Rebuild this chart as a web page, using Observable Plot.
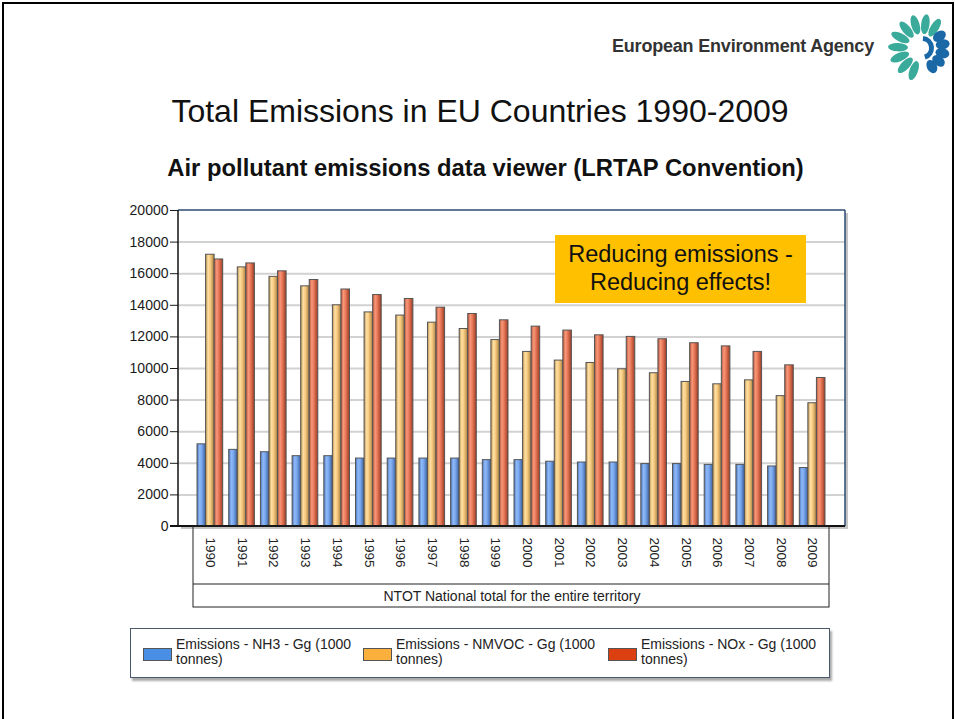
<!DOCTYPE html>
<html>
<head>
<meta charset="utf-8">
<script src="https://cdn.jsdelivr.net/npm/d3@7"></script>
<script src="https://cdn.jsdelivr.net/npm/@observablehq/plot@0.6"></script>
<style>
  html, body { margin: 0; padding: 0; background: #fff; }
  body { width: 955px; height: 719px; position: relative; overflow: hidden; font-family: "Liberation Sans", Arial, sans-serif; }
  #frame { position: absolute; left: 2px; top: 2px; width: 948px; height: 760px; border-top: 2px solid #000; border-left: 2px solid #000; border-right: 2px solid #000; }
  #agency { position: absolute; left: 612px; top: 36px; font-size: 18px; font-weight: bold; color: #333; font-family: "Liberation Sans", Arial, sans-serif; letter-spacing: -0.2px; }
  #logo { position: absolute; left: 878px; top: 8px; }
  #title { position: absolute; left: 0; width: 960px; top: 93px; text-align: center; font-size: 32px; color: #111; }
  #subtitle { position: absolute; left: 0; width: 971px; top: 154px; text-align: center; font-size: 23.8px; font-weight: bold; color: #111; }
  #chart { position: absolute; left: 0; top: 200px; }
  #note { position: absolute; left: 555px; top: 235px; width: 251px; height: 68px; background: #ffc000; font-size: 23.5px; text-align: center; line-height: 28px; color: #111; padding-top: 5px; box-sizing: border-box; }
  #legend { position: absolute; left: 130px; top: 628px; width: 700px; height: 50px; border: 1px solid #4a5a6a; box-shadow: 2px 3px 2px #aaa; background: #fff; box-sizing: border-box; }
  .item { position: absolute; top: 8px; font-family: "Liberation Sans Narrow", "Liberation Sans", Arial, sans-serif; font-size: 14px; line-height: 15px; color: #222; }
  .sw { position: absolute; left: 0; top: 11px; width: 27px; height: 11px; border: 1px solid #555; }
  .lt { position: absolute; left: 33px; top: 0; white-space: nowrap; }
</style>
</head>
<body>
<div id="frame"></div>
<div id="agency">European Environment Agency</div>
<svg id="logo" width="72" height="78" viewBox="0 0 72 78"></svg>
<div id="title">Total Emissions in EU Countries 1990-2009</div>
<div id="subtitle">Air pollutant emissions data viewer (LRTAP Convention)</div>
<div id="chart"></div>
<div id="note">Reducing emissions -<br>Reducing effects!</div>
<div id="legend"></div>
<script>
// ---- data ----
const years = ["1990","1991","1992","1993","1994","1995","1996","1997","1998","1999",
               "2000","2001","2002","2003","2004","2005","2006","2007","2008","2009"];
const nh3   = [5200, 4850, 4700, 4450, 4450, 4300, 4300, 4300, 4300, 4200,
               4200, 4100, 4050, 4050, 3950, 3950, 3900, 3900, 3800, 3700];
const nmvoc = [17200, 16400, 15800, 15200, 14000, 13550, 13350, 12900, 12500, 11800,
               11050, 10500, 10350, 9950, 9700, 9150, 9000, 9250, 8250, 7800];
const nox   = [16900, 16650, 16150, 15600, 15000, 14650, 14400, 13850, 13450, 13050,
               12650, 12400, 12100, 12000, 11850, 11600, 11400, 11050, 10200, 9400];
const seriesLabels = ["Emissions - NH3 - Gg (1000\ntonnes)",
                      "Emissions - NMVOC - Gg (1000\ntonnes)",
                      "Emissions - NOx - Gg (1000\ntonnes)"];
const yTicks = [0, 2000, 4000, 6000, 8000, 10000, 12000, 14000, 16000, 18000, 20000];
const groupLabel = "NTOT National total for the entire territory";

const table = years.map((y, i) => ({year: y, nh3: nh3[i], nmvoc: nmvoc[i], nox: nox[i]}));

// ---- layout ----
const W = 955, H = 410;
const mL = 178, mR = 110, mT = 10, mB = 84;
const xInsetL = 13, xInsetR = 14, pad = 0.19;
const step = (W - mL - mR - xInsetL - xInsetR) / (years.length - pad + 2 * pad);
const bw = step * (1 - pad);
const third = bw / 3;
const narrow = "'Liberation Sans Narrow', 'Liberation Sans', Arial, sans-serif";

const plot = Plot.plot({
  width: W, height: H,
  marginLeft: mL, marginRight: mR, marginTop: mT, marginBottom: mB,
  style: {fontFamily: "'Liberation Sans', Arial, sans-serif", fontSize: "14px", color: "#1a1a1a", background: "transparent"},
  x: {type: "band", domain: years, padding: pad, round: false, insetLeft: xInsetL, insetRight: xInsetR, axis: null},
  y: {domain: [0, 20000], ticks: yTicks, tickSize: 8, tickPadding: 2, label: null, tickFormat: d => String(d)},
  marks: [
    Plot.ruleY(yTicks.filter(d => d > 0 && d < 20000), {stroke: "#d2d2d2", strokeWidth: 2}),
    Plot.barY(table, {x: "year", y: "nh3", fill: "url(#gNH3)", stroke: "#555", strokeWidth: 1, insetRight: 2 * third}),
    Plot.barY(table, {x: "year", y: "nmvoc", fill: "url(#gNMVOC)", stroke: "#555", strokeWidth: 1, insetLeft: third, insetRight: third}),
    Plot.barY(table, {x: "year", y: "nox", fill: "url(#gNOX)", stroke: "#555", strokeWidth: 1, insetLeft: 2 * third}),
    Plot.text(table, {x: "year", text: "year", frameAnchor: "bottom", dy: 11, rotate: 90, textAnchor: "start", lineAnchor: "middle",
                      fontSize: 13.5, fontFamily: narrow, fill: "#222"}),
    Plot.text([groupLabel], {frameAnchor: "bottom", dy: 70, lineAnchor: "middle", fontSize: 14,
                      fontFamily: narrow, fill: "#222"})
  ]
});

const svg = d3.select(plot);
const defs = svg.insert("defs", ":first-child");
function grad(id, stops) {
  const g = defs.append("linearGradient").attr("id", id).attr("x1", "0").attr("x2", "1").attr("y1", "0").attr("y2", "0");
  stops.forEach(([o, c]) => g.append("stop").attr("offset", o).attr("stop-color", c));
}
grad("gNH3",   [[0, "#4a73b8"], [0.3, "#8fbaf8"], [0.55, "#7aa8ee"], [1, "#3c60a0"]]);
grad("gNMVOC", [[0, "#b89050"], [0.3, "#ffe0a2"], [0.55, "#f8ca80"], [1, "#a88040"]]);
grad("gNOX",   [[0, "#b8583a"], [0.3, "#f8987a"], [0.55, "#e87858"], [1, "#9c3c24"]]);

// background + shadow of plot area, inserted behind marks
const x0 = mL, x1 = W - mR, y0 = mT, y1 = H - mB;
const bg = svg.insert("g", "defs + *");
bg.append("rect").attr("x", x0 + 3).attr("y", y0 + 3).attr("width", x1 - x0).attr("height", y1 - y0).attr("fill", "#c4c4c4");
bg.append("rect").attr("x", x0).attr("y", y0).attr("width", x1 - x0).attr("height", y1 - y0).attr("fill", "#fff");

// borders and category box
const deco = svg.append("g");
deco.append("line").attr("x1", x0).attr("x2", x1).attr("y1", y0).attr("y2", y0).attr("stroke", "#2b4b73").attr("stroke-width", 1.5);
deco.append("line").attr("x1", x1).attr("x2", x1).attr("y1", y0).attr("y2", y1).attr("stroke", "#2b4b73").attr("stroke-width", 1.5);
deco.append("line").attr("x1", x0).attr("x2", x0).attr("y1", y0).attr("y2", y1).attr("stroke", "#111").attr("stroke-width", 1.5);
deco.append("line").attr("x1", x0 - 8).attr("x2", x1).attr("y1", y1).attr("y2", y1).attr("stroke", "#111").attr("stroke-width", 2);
const bx0 = x0 + xInsetL + 2, bx1 = x1 - xInsetR - 2;
deco.append("rect").attr("x", bx0).attr("y", y1).attr("width", bx1 - bx0).attr("height", 81).attr("fill", "none").attr("stroke", "#222").attr("stroke-width", 1);
deco.append("line").attr("x1", bx0).attr("x2", bx1).attr("y1", y1 + 58).attr("y2", y1 + 58).attr("stroke", "#222").attr("stroke-width", 1);

document.getElementById("chart").appendChild(plot);

// ---- legend ----
const legendColors = ["#4a8fe6", "#fbb03e", "#dd4010"];
const legendX = [12, 232, 477];
const legend = d3.select("#legend");
seriesLabels.forEach((lab, i) => {
  const it = legend.append("div").attr("class", "item").style("left", legendX[i] + "px");
  it.append("div").attr("class", "sw").style("background", legendColors[i]);
  const t = it.append("div").attr("class", "lt");
  lab.split("\n").forEach((line, j) => { if (j) t.append("br"); t.append("span").text(line); });
});

// ---- logo ----
const logo = d3.select("#logo");
const cx = 44, cy = 40;
for (let k = 0; k < 14; k++) {
  const a = -250 + k * 24;           // degrees
  const rad = a * Math.PI / 180;
  const isBlue = a > -40 && a < 100;
  const r0 = 14, r1 = isBlue ? 28 : 34;
  const wdt = isBlue ? 5 : 4.2;
  const px = cx + Math.cos(rad) * (r0 + r1) / 2, py = cy + Math.sin(rad) * (r0 + r1) / 2;
  logo.append("ellipse")
    .attr("cx", px).attr("cy", py)
    .attr("rx", (r1 - r0) / 2).attr("ry", wdt)
    .attr("transform", `rotate(${a} ${px} ${py})`)
    .attr("fill", isBlue ? "#1b68a6" : "#3aaa9a");
}
logo.append("path").attr("d", d3.arc()({innerRadius: 7, outerRadius: 12, startAngle: 0.1, endAngle: Math.PI - 0.3}))
  .attr("transform", `translate(${cx},${cy})`).attr("fill", "#1b68a6");
</script>
</body>
</html>
